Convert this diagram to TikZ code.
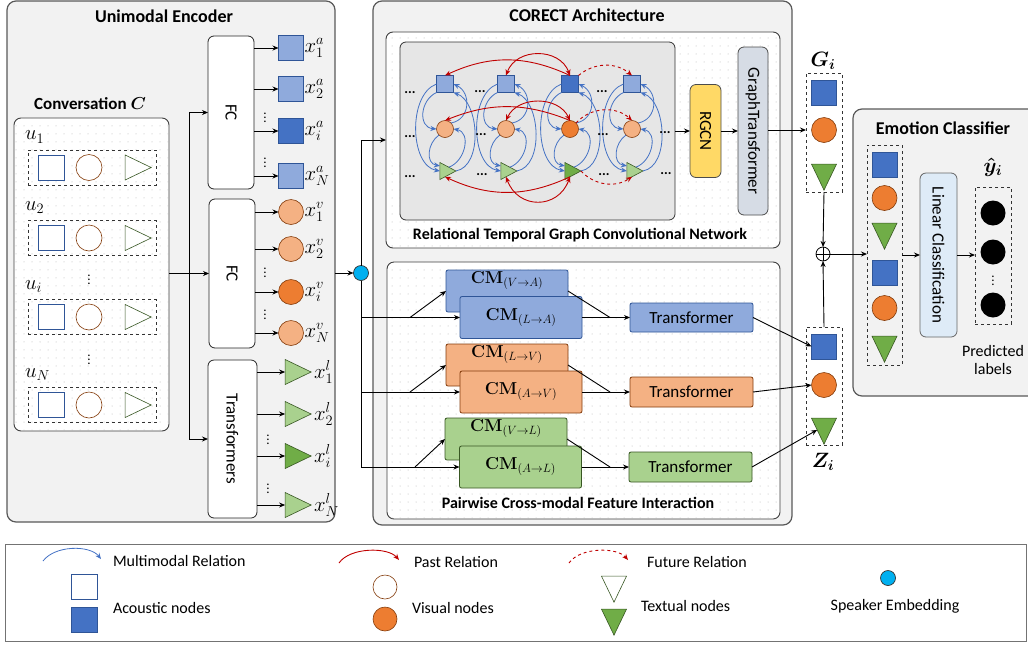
\documentclass[tikz,border=0pt]{standalone}
\usepackage{amsmath}
\usepackage{amssymb}
\usepackage{bm}
\usepackage{graphicx}
\usepackage[no-math]{fontspec}
\setmainfont{Carlito}
\usetikzlibrary{arrows.meta, positioning, calc, shapes.geometric, patterns.meta}

\definecolor{aLight}{HTML}{8FAADC}
\definecolor{aDark}{HTML}{4472C4}
\definecolor{aLine}{HTML}{2F5597}
\definecolor{vLight}{HTML}{F4B183}
\definecolor{vDark}{HTML}{ED7D31}
\definecolor{vLine}{HTML}{843C0C}
\definecolor{lLight}{HTML}{A9D18E}
\definecolor{lDark}{HTML}{70AD47}
\definecolor{lLine}{HTML}{385723}
\definecolor{panelGray}{HTML}{F2F2F2}
\definecolor{graphGray}{HTML}{E6E6E6}
\definecolor{rgcnYellow}{HTML}{FFD966}
\definecolor{gtGray}{HTML}{D6DCE5}
\definecolor{linBlue}{HTML}{DEEBF7}
\definecolor{spkCyan}{HTML}{00B0F0}
\definecolor{pastRed}{HTML}{C00000}

\tikzdeclarepattern{
  name=dotgrid, type=uncolored,
  bottom left={(-.6pt,-.6pt)}, top right={(.6pt,.6pt)},
  tile size={(8pt,8pt)},
  code={\fill (0pt,0pt) circle (.5pt);}
}

\begin{document}
\begin{tikzpicture}[
    x=1pt, y=1pt,
    >={Stealth[length=6pt, width=5pt]},
    every node/.style={inner sep=0pt, outer sep=0pt},
    txt/.style={font=\fontsize{17}{19}\selectfont},
    mth/.style={font=\fontsize{20}{22}\selectfont},
    lgd/.style={font=\fontsize{16}{18}\selectfont},
    ttl/.style={font=\fontsize{18}{20}\selectfont\bfseries},
    ttls/.style={font=\fontsize{16}{18}\selectfont\bfseries},
    gdots/.style={font=\fontsize{14}{16}\selectfont\bfseries, anchor=base},
    vd/.style={font=\fontsize{13}{15}\selectfont},
    panel/.style={draw=black!65, line width=1.2pt, rounded corners=9pt, fill=panelGray},
    dotpanel/.style={draw=black!75, line width=0.9pt, rounded corners=7pt, fill=white,
        postaction={pattern=dotgrid, pattern color=black!30}},
    blk/.style={draw=black!85, line width=0.8pt, rounded corners=6pt, fill=white,
        font=\fontsize{17}{19}\selectfont},
    grp/.style={draw=black!80, dashed, line width=0.8pt},
    conn/.style={black, line width=0.9pt},
    asq/.style={rectangle, draw=aLine, line width=0.6pt, minimum size=25},
    vci/.style={circle, draw=vLine, line width=0.6pt, minimum size=25},
    ltr/.style={isosceles triangle, isosceles triangle stretches, draw=lLine,
        line width=0.6pt, minimum width=25, minimum height=26},
    ltrdown/.style={ltr, shape border rotate=-90},
    gsq/.style={asq, minimum size=17},
    gci/.style={vci, minimum size=17},
    gtri/.style={ltr, minimum width=17, minimum height=16},
    mm/.style={->, aDark, line width=0.8pt},
    past/.style={->, pastRed, line width=0.9pt},
    cm/.style={draw=#1, line width=0.8pt, rounded corners=2pt, minimum width=122,
        minimum height=42, font=\fontsize{17}{19}\selectfont},
    cmtop/.style={label={[anchor=north, yshift=-2pt, font=\fontsize{17}{19}\selectfont]north:#1}},
]
\useasboundingbox (0,0) rectangle (1028,-646);

% ---------- Unimodal Encoder ----------
\node[panel, minimum width=328, minimum height=521] (enc) at (171,-261.5) {};
\node[ttl] (encT) at (164,-16) {Unimodal Encoder};

\node[dotpanel, minimum width=155, minimum height=313] (conv) at (91.5,-274.5) {};
\node[ttl, font=\fontsize{17}{19}\selectfont\bfseries] (convT) at (90,-104) {Conversation $\bm{C}$};

\foreach \r/\y/\lab in {1/167.5/u_1, 2/238/u_2, 3/317/u_i, 4/405/u_N} {
    \node[grp, minimum width=128, minimum height=35] (row\r) at (92,-\y) {};
    \node[asq, fill=white, minimum width=26] (rs\r) at (51,-\y) {};
    \node[vci, fill=white, minimum width=26] (rc\r) at (89,-\y) {};
    \node[ltr, fill=white, minimum width=25, minimum height=26] (rt\r) at (133,-\y) {};
    \node[mth, anchor=west] (ul\r) at (25,{-\y+30.5}) {$\lab$};
}
\node[vd] (cvd1) at (89,-277) {$\vdots$};
\node[vd] (cvd2) at (89,-357) {$\vdots$};

\node[blk, minimum width=46, minimum height=153] (fca) at (231,-112.5) {\rotatebox{-90}{FC}};
\node[blk, minimum width=46, minimum height=149] (fcv) at (232,-273.5) {\rotatebox{-90}{FC}};
\node[blk, minimum width=49, minimum height=158] (trf) at (232.5,-439) {\rotatebox{-90}{Transformers}};

\coordinate (split) at (189,-273.5);
\draw[conn, ->] (conv.east |- fcv) -- (fcv.west);
\draw[conn, ->] (split) |- (fca.west);
\draw[conn, ->] (split) |- (trf.west);

% encoder outputs
\foreach \n/\y/\lab/\col in {1/48/1/aLight, 2/89/2/aLight, 3/131/i/aDark, 4/176/N/aLight} {
    \node[asq, fill=\col] (xa\n) at (291,-\y) {};
    \node[mth, anchor=west] (xal\n) at ([xshift=1]xa\n.east) {$x_{\lab}^{a}$};
    \draw[conn, ->] (fca.east |- xa\n) -- (xa\n.west);
}
\foreach \n/\y/\lab/\col in {1/212/1/vLight, 2/249/2/vLight, 3/292/i/vDark, 4/333/N/vLight} {
    \node[vci, fill=\col] (xv\n) at (291,-\y) {};
    \node[mth, anchor=west] (xvl\n) at ([xshift=1]xv\n.east) {$x_{\lab}^{v}$};
    \draw[conn, ->] (fcv.east |- xv\n) -- (xv\n.west);
}
\foreach \n/\y/\lab/\col in {1/372/1/lLight, 2/414/2/lLight, 3/456/i/lDark, 4/505/N/lLight} {
    \node[ltr, fill=\col] (xl\n) at (293,-\y) {};
    \node[mth, anchor=west] (xll\n) at ([xshift=3]xl\n.apex) {$x_{\lab}^{l}$};
    \draw[conn, ->] (trf.east |- xl\n) -- (xl\n.west);
}
\foreach \n/\x/\y in {1/265/115, 2/265/160, 3/265/270, 4/265/312, 5/268/437, 6/268/486} {
    \node[vd] (evd\n) at (\x,-\y) {$\vdots$};
}

% speaker embedding
\node[circle, draw=black!80, fill=spkCyan, minimum size=15, line width=0.7pt] (spk) at (361,-273) {};
\draw[conn, ->] (enc.east |- spk) -- (spk.west);

% ---------- CORECT Architecture ----------
\node[panel, minimum width=419, minimum height=524] (arch) at (582.5,-263) {};
\node[ttl] (archT) at (587,-15) {CORECT Architecture};

\node[dotpanel, minimum width=394, minimum height=216] (rtg) at (583,-140) {};
\node[ttls] (rtgT) at (580,-235) {Relational Temporal Graph Convolutional Network};
\node[draw=black!80, line width=0.8pt, rounded corners=6pt, fill=graphGray,
      minimum width=275, minimum height=178] (gph) at (537.5,-131) {};

\foreach \c/\x/\sa/\va/\la in {1/445/aLight/vLight/lLight, 2/506/aLight/vLight/lLight,
                               3/570/aDark/vDark/lDark, 4/632/aLight/vLight/lLight} {
    \node[gsq, fill=\sa] (s\c) at (\x,-84) {};
    \node[gci, fill=\va] (c\c) at (\x,-129) {};
    \node[gtri, fill=\la] (t\c) at (\x,-171) {};
    % multimodal relations
    \draw[mm] (s\c.south west) to[out=205, in=175, looseness=1.3] (c\c.west);
    \draw[mm] (s\c.west) to[out=200, in=170, looseness=0.9] (t\c.west);
    \draw[mm] (c\c.south west) to[out=215, in=170, looseness=1.2] (t\c.north west);
    \draw[mm] (c\c.north east) to[out=10, in=-25, looseness=1.3] (s\c.east);
    \draw[mm] (t\c.apex) to[out=10, in=-20, looseness=0.9] (s\c.south east);
    \draw[mm] (t\c.north east) to[out=20, in=-10, looseness=1.2] (c\c.east);
}
\foreach \n/\x/\y in {1/410/93, 2/410/137, 3/410/177, 4/480/92, 5/481/135, 6/482/175,
                      7/602/92, 8/603/135, 9/604/175, 10/665/133, 11/666/174} {
    \node[gdots] (gd\n) at (\x,-\y) {...};
}

% past / future relations
\draw[past] (s3.north) to[bend right=25] (s1.north);
\draw[past, <->] (s3.north) to[out=110, in=70, looseness=1.2] (s2.north);
\draw[past, dashed] (s3.north east) to[bend left=40] (s4.north);
\draw[past] (c3.north) to[bend right=22] (c1.north);
\draw[past, <->] (c3.north) to[out=115, in=65, looseness=1.1] (c2.north);
\draw[past, dashed] (c3.north east) to[bend left=45] (c4.north);
\draw[past] (t3.south) to[bend left=25] (t1.south);
\draw[past, <->] (t3.south) to[out=250, in=290, looseness=1.4] (t2.south);
\draw[past, dashed] (t3.apex) to[bend right=40] (t4.south);

\node[blk, fill=rgcnYellow, draw=black!70, minimum width=31, minimum height=93] (rgcn) at (705.5,-131) {\rotatebox{-90}{RGCN}};
\node[blk, fill=gtGray, draw=black!70, minimum width=30, minimum height=168] (gtr) at (753,-131) {\rotatebox{-90}{GraphTransformer}};
\draw[conn, ->] (gph.east) -- (rgcn.west);
\draw[conn, ->] (rgcn.east) -- (gtr.west);
\draw[conn, ->] (spk.north) |- (rtg.west);

% pairwise cross-modal
\node[dotpanel, minimum width=393, minimum height=257] (pcm) at (583.5,-390.5) {};
\node[ttls] (pcmT) at (578,-503) {Pairwise Cross-modal Feature Interaction};

\node[cm=aLine, fill=aLight, cmtop={$\mathbf{CM}_{(V\rightarrow A)}$}] (cmA1) at (507,-291) {};
\node[cm=aLine, fill=aLight] (cmA2) at (521,-317.5) {$\mathbf{CM}_{(L\rightarrow A)}$};
\node[cm=vLine, fill=vLight, cmtop={$\mathbf{CM}_{(L\rightarrow V)}$}] (cmV1) at (507,-365) {};
\node[cm=vLine, fill=vLight] (cmV2) at (521,-392) {$\mathbf{CM}_{(A\rightarrow V)}$};
\node[cm=lLine, fill=lLight, cmtop={$\mathbf{CM}_{(V\rightarrow L)}$}] (cmL1) at (506,-439) {};
\node[cm=lLine, fill=lLight] (cmL2) at (520.5,-467) {$\mathbf{CM}_{(A\rightarrow L)}$};

\node[cm=aLine, fill=aLight, minimum width=123, minimum height=29] (tA) at (691.5,-317.5) {Transformer};
\node[cm=vLine, fill=vLight, minimum width=123, minimum height=30] (tV) at (691.5,-392) {Transformer};
\node[cm=lLine, fill=lLight, minimum width=123, minimum height=30] (tL) at (690.5,-467) {Transformer};

\foreach \m/\bx/\by in {A/410/317.5, V/410/392, L/415/467} {
    \coordinate (b\m) at (\bx,-\by);
    \coordinate (j\m) at (610,-\by);
    \draw[conn, ->] (spk) |- (cm\m2.west);
    \draw[conn, ->] (b\m) -- (cm\m1.west);
    \draw[conn] (cm\m1.east) -- (j\m);
    \draw[conn, ->] (cm\m2.east) -- (t\m.west);
}

% ---------- G_i, Z_i ----------
\node[grp, minimum width=36, minimum height=119] (gbox) at (824,-132.5) {};
\node[asq, fill=aDark] (gS) at (824,-92.5) {};
\node[vci, fill=vDark] (gC) at (824,-130) {};
\node[ltrdown, fill=lDark] (gT) at (824,-172) {};
\node[mth] (gL) at (823,-61) {$\bm{G_i}$};
\draw[conn, ->] (gtr.east |- gC) -- (gbox.west |- gC);

\node[grp, minimum width=36, minimum height=118] (zbox) at (824,-386) {};
\node[asq, fill=aDark] (zS) at (824,-346.5) {};
\node[vci, fill=vDark] (zC) at (824,-385) {};
\node[ltrdown, fill=lDark] (zT) at (824,-426) {};
\node[mth] (zL) at (823,-462) {$\bm{Z_i}$};
\draw[conn, ->] (tA.east) -- (zS.west);
\draw[conn, ->] (tV.east) -- (zC.west);
\draw[conn, ->] (tL.east) -- (zT);

\node[circle, draw=black, line width=0.8pt, fill=white, minimum size=14,
      path picture={\draw[line width=0.8pt] (path picture bounding box.north) -- (path picture bounding box.south)
                    (path picture bounding box.west) -- (path picture bounding box.east);}] (oplus) at (823,-254) {};
\draw[conn, ->] (gbox.south) -- (oplus.north);
\draw[conn, ->] (zbox.north) -- (oplus.south);

% ---------- Emotion Classifier ----------
\node[panel, minimum width=187, minimum height=287] (emo) at (946.5,-252.5) {};
\node[ttl] (emoT) at (943,-128) {Emotion Classifier};
\node[grp, minimum width=35, minimum height=220] (ebox) at (884.5,-255) {};
\node[asq, fill=aDark] (eS1) at (884.5,-165) {};
\node[vci, fill=vDark] (eC1) at (884.5,-198) {};
\node[ltrdown, fill=lDark] (eT1) at (884.5,-231) {};
\node[asq, fill=aDark] (eS2) at (884.5,-273) {};
\node[vci, fill=vDark] (eC2) at (884.5,-308) {};
\node[ltrdown, fill=lDark] (eT2) at (884.5,-344) {};
\draw[conn, ->] (oplus.east) -- (ebox.west |- oplus);

\node[blk, fill=linBlue, draw=black!60, minimum width=37, minimum height=164] (lin) at (938.5,-255) {\rotatebox{-90}{Linear Classification}};
\draw[conn, ->] (ebox.east |- lin) -- (lin.west);

\node[grp, minimum width=36, minimum height=137] (ybox) at (993,-255.5) {};
\foreach \n/\y in {1/213, 2/252, 3/305} {
    \node[circle, fill=black, minimum size=25] (yc\n) at (993,-\y) {};
}
\node[vd] (yvd) at (993,-278) {$\vdots$};
\node[mth] (yL) at (993,-167) {$\bm{\hat{y}_i}$};
\node[lgd, align=center] (predL) at (993,-360) {Predicted\\labels};
\draw[conn, ->] (lin.east) -- (ybox.west |- lin);

% ---------- Legend ----------
\node[draw=black!55, line width=1pt, minimum width=1021, minimum height=97] (leg) at (515.5,-592.5) {};
\draw[mm] (43,-561) .. controls (55,-545) and (90,-545) .. (101,-559);
\node[lgd, anchor=west] (legMM) at (113,-561) {Multimodal Relation};
\draw[past] (339,-563) .. controls (350,-547) and (388,-547) .. (399,-560);
\node[lgd, anchor=west] (legP) at (414,-562) {Past Relation};
\draw[past, dashed] (569,-563) .. controls (580,-547) and (617,-547) .. (628,-560);
\node[lgd, anchor=west] (legF) at (647,-562) {Future Relation};

\node[asq, fill=white, minimum width=26] (lgS1) at (84,-587) {};
\node[asq, fill=aDark, minimum width=26] (lgS2) at (84,-620) {};
\node[lgd, anchor=west] (legA) at (113,-608) {Acoustic nodes};
\node[vci, fill=white, minimum size=24] (lgC1) at (385,-587) {};
\node[vci, fill=vDark, minimum size=24] (lgC2) at (385,-619) {};
\node[lgd, anchor=west] (legV) at (412,-608) {Visual nodes};
\node[ltrdown, fill=white] (lgT1) at (614,-584) {};
\node[ltrdown, fill=lDark] (lgT2) at (614,-617) {};
\node[lgd, anchor=west] (legT) at (641,-606) {Textual nodes};
\node[circle, draw=black!80, fill=spkCyan, minimum size=15, line width=0.7pt] (lgSpk) at (888,-578) {};
\node[lgd] (legS) at (895,-606) {Speaker Embedding};
\end{tikzpicture}
\end{document}
